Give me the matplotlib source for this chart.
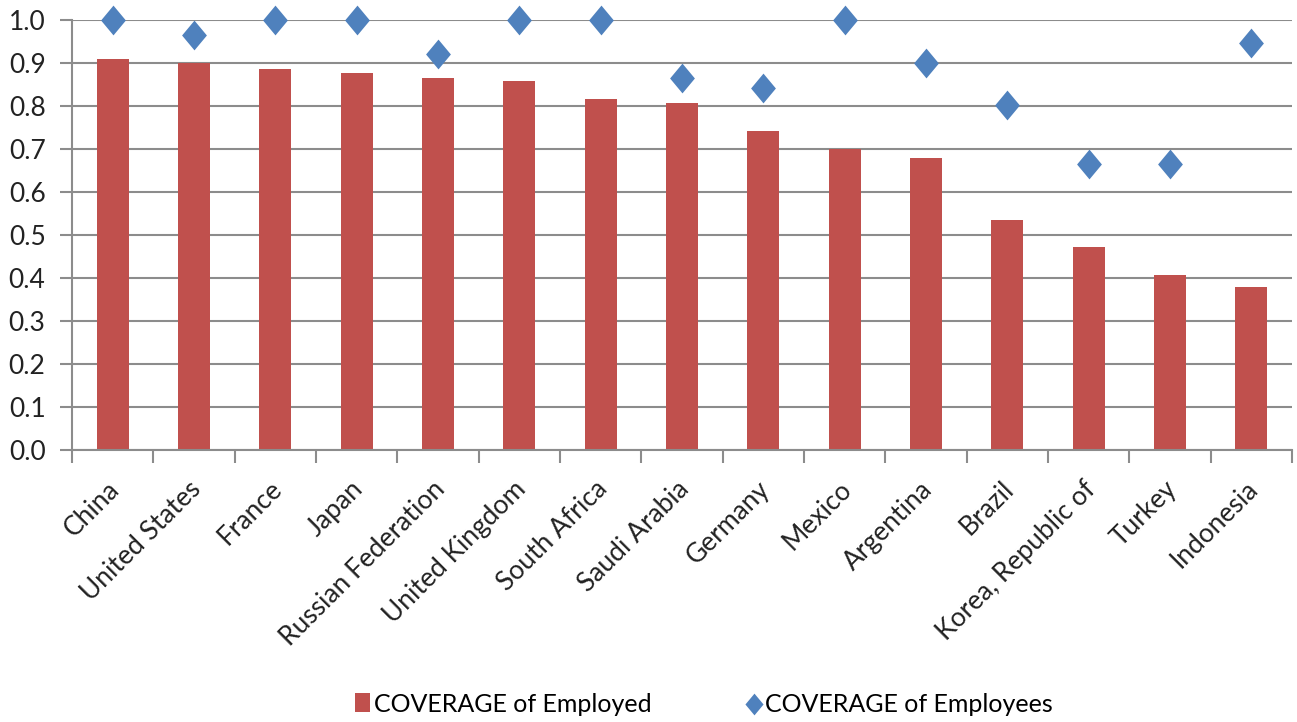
import matplotlib.pyplot as plt
import matplotlib.transforms as mtransforms
import numpy as np

countries = ['China', 'United States', 'France', 'Japan', 'Russian Federation',
             'United Kingdom', 'South Africa', 'Saudi Arabia', 'Germany', 'Mexico',
             'Argentina', 'Brazil', 'Korea, Republic of', 'Turkey', 'Indonesia']
employed = [0.910, 0.901, 0.887, 0.876, 0.864,
            0.858, 0.817, 0.806, 0.742, 0.701,
            0.678, 0.534, 0.471, 0.407, 0.378]
employees = [1.0, 0.964, 1.0, 1.0, 0.922,
             1.0, 1.0, 0.866, 0.843, 1.0,
             0.901, 0.802, 0.664, 0.664, 0.947]
yticks = np.arange(0, 1.01, 0.1)

plt.rcParams['font.family'] = ['Lato', 'DejaVu Sans']

fig = plt.figure(figsize=(12.97, 7.22), dpi=100)
ax = fig.add_axes([72/1297, 1-450/722, 1220/1297, 430/722])

# slightly taller than wide, like the Excel diamond
diamond = [(0, -1.2), (1, 0), (0, 1.2), (-1, 0), (0, -1.2)]

x = np.arange(len(countries))
ax.bar(x, employed, width=0.39, color='#C0504D', zorder=2, label='COVERAGE of Employed')
ax.scatter(x, employees, marker=diamond, s=460, color='#4F81BD', linewidths=0, zorder=3,
           clip_on=False, label='COVERAGE of Employees')

ax.set_xlim(-0.5, len(countries)-0.5)
ax.set_ylim(0, 1.0)
ax.set_yticks(yticks)
ax.set_yticklabels(['%.1f' % v for v in yticks], fontsize=19, color='#222222')
ax.set_xticks(np.arange(-0.5, len(countries), 1.0))
ax.set_xticklabels([])
ax.set_xticks(x, minor=True)
ax.set_xticklabels(countries, minor=True, rotation=45, ha='right', va='top',
                   rotation_mode='anchor', fontsize=19, color='#222222')
ax.tick_params(axis='x', which='minor', length=0, pad=19)
ax.tick_params(axis='x', which='major', length=9, width=1.5, color='#8C8C8C', direction='out')
ax.tick_params(axis='y', length=9, width=1.5, color='#8C8C8C', direction='out', pad=10)
off = mtransforms.ScaledTranslation(-6/100, 0, fig.dpi_scale_trans)
for lab in ax.get_xticklabels(minor=True):
    lab.set_transform(lab.get_transform() + off)

ax.grid(axis='y', color='#8C8C8C', linewidth=1.5, zorder=0)
ax.set_axisbelow(True)
for s in ['top', 'right']:
    ax.spines[s].set_visible(False)
ax.spines['left'].set_color('#8C8C8C')
ax.spines['left'].set_linewidth(1.5)
ax.spines['bottom'].set_color('#8C8C8C')
ax.spines['bottom'].set_linewidth(1.5)

h, l = ax.get_legend_handles_labels()
order = [l.index('COVERAGE of Employed'), l.index('COVERAGE of Employees')]
fig.legend([h[i] for i in order], [l[i] for i in order], loc='center',
           bbox_to_anchor=(0.543, 1-704/722), ncol=2, frameon=False, fontsize=18,
           handlelength=0.6, handleheight=0.8, handletextpad=0.15, columnspacing=3.8,
           markerscale=0.73)

fig.savefig('out.png', dpi=100)
